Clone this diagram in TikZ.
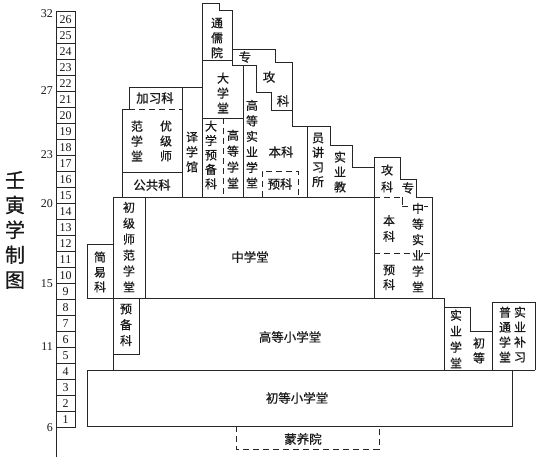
\documentclass[tikz,border=0pt]{standalone}
\usepackage{fontspec}
\setmainfont{Liberation Serif}
\newfontfamily\cjk[FakeBold=0.6]{Noto Sans CJK SC}
\begin{document}
\begin{tikzpicture}[x=1bp,y=-1bp,
  ln/.style={draw=black!85, line width=0.8bp, line join=miter},
  dsh/.style={draw=black!85, line width=0.8bp, dash pattern=on 6bp off 4bp},
  vt/.style={font=\cjk\fontsize{12}{16}\selectfont, align=center, inner sep=0.5bp, text=black!90},
  vtf/.style={font=\cjk\fontsize{12}{15}\selectfont, align=center, inner sep=0.5bp, text=black!90},
  ht/.style={font=\cjk\fontsize{12.5}{15}\selectfont, inner sep=0.5bp, text=black!90},
  num/.style={font=\fontsize{12}{12}\selectfont, inner sep=0pt, text=black!90},
  ttl/.style={font=\cjk\fontsize{20}{25}\selectfont, align=center, inner sep=0pt, text=black!90}
]
\useasboundingbox[fill=white] (0,0) rectangle (540,457);

% title
\node[ttl] (title) at (15,230) {壬\\寅\\学\\制\\图};

% grade ladder
\draw[ln] (56,11) -- (56,457);
\foreach \n in {1,...,26} {
  \pgfmathsetmacro\yt{427-16*\n}
  \pgfmathsetmacro\yb{427-16*(\n-1)}
  \draw[ln] (56,\yt) rectangle (75,\yb);
  \node[num] (g\n) at (65.5,{(\yt+\yb)/2+1}) {\n};
}
% age labels
\node[num, anchor=east] (a32) at (53,14) {32};
\node[num, anchor=east] (a27) at (53,91) {27};
\node[num, anchor=east] (a23) at (53,155) {23};
\node[num, anchor=east] (a20) at (53,204) {20};
\node[num, anchor=east] (a15) at (53,284) {15};
\node[num, anchor=east] (a11) at (53,347) {11};
\node[num, anchor=east] (a6) at (53,428) {6};

% ---------- upper left: 优级师范学堂 ----------
\draw[ln] (129,109) -- (129,87) -- (182,87) -- (182,197);
\draw[dsh] (129,109) -- (182,109);
\draw[ln] (122,197) -- (122,109) -- (129,109);
\draw[ln] (122,172) -- (182,172);
% 译学馆
\draw[ln] (182,87) -- (202,87);

% ---------- 通儒院 / 大学堂 / 高等实业学堂 ----------
\draw[ln] (202,197) -- (202,3) -- (219,3) -- (219,10) -- (232,10) -- (232,65);
\draw[ln] (202,60) -- (232,60);
\draw[ln] (232,49) -- (275,49) -- (275,62) -- (292,62) -- (292,126) -- (330,126)
  -- (330,145) -- (352,145) -- (352,167) -- (374,167);
\draw[ln] (232,65) -- (256,65) -- (256,92) -- (271,92) -- (271,110) -- (292,110);
\draw[ln] (243,65) -- (243,197);
\draw[ln] (202,118) -- (243,118);
\draw[dsh] (223,118) -- (223,197);
\draw[ln] (307,126) -- (307,197);
\draw[dsh] (262,197) -- (262,171) -- (298,171) -- (298,197);

% ---------- right: 中等实业学堂 ----------
\draw[ln] (374,298) -- (374,157) -- (400,157) -- (400,179) -- (416,179) -- (416,197)
  -- (432,197) -- (432,298);
\draw[dsh] (374,197) -- (401,197);
\draw[ln] (402,197) -- (402,205);
\draw[dsh] (402,206) -- (432,206);
\draw[dsh] (374,253) -- (432,253);

% ---------- 中学堂 / 初级师范学堂 / 简易科 ----------
\draw[ln] (113,298) -- (113,197) -- (374,197);
\draw[ln] (145,197) -- (145,298);
\draw[ln] (87,298) -- (87,244) -- (113,244);
\draw[ln] (87,298) -- (444,298) -- (444,370);

% ---------- 高等小学堂 ----------
\draw[ln] (113,298) -- (113,370);
\draw[ln] (113,354) -- (139,354) -- (139,298);
\draw[ln] (444,307) -- (470,307) -- (470,331) -- (492,331);
\draw[ln] (492,370) -- (492,302) -- (535,302) -- (535,370);

% ---------- 初等小学堂 / 蒙养院 ----------
\draw[ln] (87,426) -- (87,370) -- (535,370);
\draw[ln] (87,426) -- (512,426) -- (512,370);
\draw[dsh] (236,426) -- (236,449) -- (379,449) -- (379,426);

% ---------- texts ----------
\node[ht] (jiaxike) at (155,98) {加习科};
\node[vtf] (youji) at (166,141) {优\\级\\师};
\node[vtf] (fanxue) at (137,141) {范\\学\\堂};
\node[ht] (gonggong) at (152,185) {公共科};
\node[vtf] (yixue) at (192,152) {译\\学\\馆};
\node[vtf] (tongru) at (217,38) {通\\儒\\院};
\node[ht] (zhuan1) at (245,57) {专};
\node[ht] (gong1) at (269,77) {攻};
\node[ht] (ke1) at (283,101) {科};
\node[vtf] (daxue) at (223,93) {大\\学\\堂};
\node[vt, font=\cjk\fontsize{12}{14.5}\selectfont] (dayu) at (211,155) {大\\学\\预\\备\\科};
\node[vt] (gaodeng) at (233,159) {高\\等\\学\\堂};
\node[vt, font=\cjk\fontsize{12}{15.6}\selectfont] (gaoshi) at (252,144) {高\\等\\实\\业\\学\\堂};
\node[ht] (benke1) at (281,152) {本科};
\node[ht] (yuke1) at (280,184) {预科};
\node[vt, font=\cjk\fontsize{12}{14.7}\selectfont] (yuanjiang) at (318,160) {员\\讲\\习\\所};
\node[vtf] (shiyejiao) at (340,172) {实\\业\\教};
\node[vt, font=\cjk\fontsize{12}{17}\selectfont] (gongke2) at (387,178.5) {攻\\科};
\node[ht] (zhuan2) at (408,188) {专};
\node[vt] (benke2) at (389,228.5) {本\\科};
\node[vtf] (yuke2) at (389,277.5) {预\\科};
\node[vt, fill=white, font=\cjk\fontsize{12}{15.8}\selectfont] (zhongshi) at (418,247.5) {中\\等\\实\\业\\学\\堂};
\node[ht] (zhongxue) at (250,257) {中学堂};
\node[vt] (chuji) at (129,247) {初\\级\\师\\范\\学\\堂};
\node[vtf] (jianyi) at (100,272) {简\\易\\科};
\node[vt] (yubei) at (126,325) {预\\备\\科};
\node[ht] (gaoxiao) at (290,337) {高等小学堂};
\node[vt] (shiyexue) at (456,339) {实\\业\\学\\堂};
\node[vtf] (chudeng) at (479,350.5) {初\\等};
\node[vtf] (putong) at (505,334.5) {普\\通\\学\\堂};
\node[vtf] (buxi) at (520,334.5) {实\\业\\补\\习};
\node[ht] (chuxiao) at (297,398) {初等小学堂};
\node[ht] (mengyang) at (303,439) {蒙养院};
\end{tikzpicture}
\end{document}
